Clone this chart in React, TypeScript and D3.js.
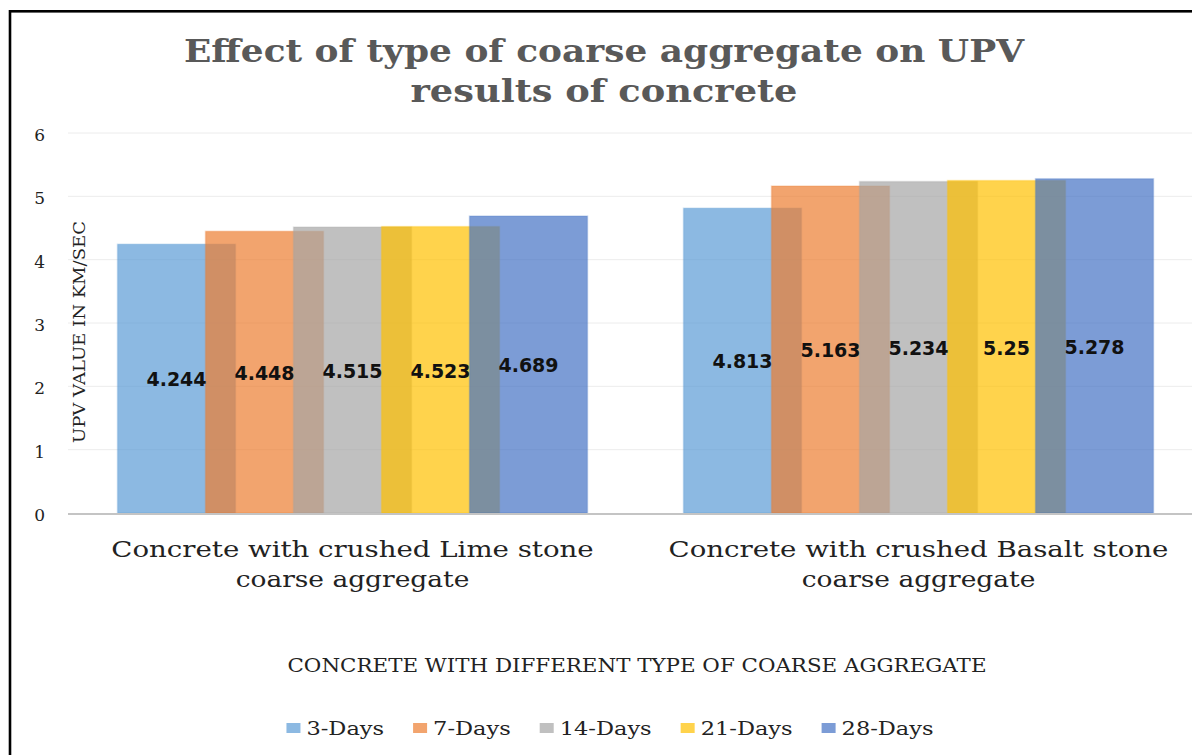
import React from "react";
import * as d3 from "d3";

// ---------- data ----------
const CATEGORIES = [
  "Concrete with crushed Lime stone coarse aggregate",
  "Concrete with crushed Basalt stone coarse aggregate",
];
const CATEGORY_LINES = [
  ["Concrete with crushed Lime stone", "coarse aggregate"],
  ["Concrete with crushed Basalt stone", "coarse aggregate"],
];
const SERIES = ["3-Days", "7-Days", "14-Days", "21-Days", "28-Days"];
const COLORS = ["#5B9BD5", "#ED7D31", "#A5A5A5", "#FFC000", "#4472C4"];
const DAYS_3 = [4.244, 4.813];
const DAYS_7 = [4.448, 5.163];
const DAYS_14 = [4.515, 5.234];
const DAYS_21 = [4.523, 5.25];
const DAYS_28 = [4.689, 5.278];
const VALUES = [DAYS_3, DAYS_7, DAYS_14, DAYS_21, DAYS_28];
const LABELS = [
  ["4.244", "4.813"],
  ["4.448", "5.163"],
  ["4.515", "5.234"],
  ["4.523", "5.25"],
  ["4.689", "5.278"],
];
const Y_TICKS = [0, 1, 2, 3, 4, 5, 6];
const TITLE_LINES = ["Effect of type of coarse aggregate on UPV", "results of concrete"];
const Y_TITLE = "UPV VALUE IN KM/SEC";
const X_TITLE = "CONCRETE WITH DIFFERENT TYPE OF COARSE AGGREGATE";

// ---------- layout ----------
const W = 1192;
const H = 755;
const PLOT_LEFT = 69.5;
const PLOT_RIGHT = 1201.5;
const Y_BOTTOM = 513;
const Y_TOP = 133;
const BAR_W = 118;
const BAR_STEP = 88;
const SERIF = "'DejaVu Serif', 'Liberation Serif', serif";
const SANS = "'DejaVu Sans', Verdana, sans-serif";
const SX_CAT = 1.2;
const SX_CAT2 = 1.15;
const SX_LEG = 1.25;

let _ctx: CanvasRenderingContext2D | null = null;
function measure(text: string, font: string): number {
  if (!_ctx) {
    const c = document.createElement("canvas");
    _ctx = c.getContext("2d");
  }
  if (!_ctx) return text.length * 10;
  _ctx.font = font;
  return _ctx.measureText(text).width;
}

export default function App() {
  const x = d3.scaleBand<string>().domain(CATEGORIES).range([PLOT_LEFT, PLOT_RIGHT]).paddingInner(0).paddingOuter(0);
  const y = d3.scaleLinear().domain([0, 6]).range([Y_BOTTOM, Y_TOP]);
  const groupW = BAR_STEP * (SERIES.length - 1) + BAR_W;
  const off = (x.bandwidth() - groupW) / 2;
  const sx = d3.scaleLinear().domain([0, SERIES.length - 1]).range([off, off + BAR_STEP * (SERIES.length - 1)]);

  const catFontSize = 23;
  const catFont = `${catFontSize}px ${SERIF}`;
  const legFontSize = 18;
  const legFont = `${legFontSize}px ${SERIF}`;
  const xtFontSize = 19;

  // legend layout
  const legendItems = SERIES.map((s) => ({ s, tw: measure(s, legFont) * SX_LEG }));
  const SQ_W = 14;
  const SQ_GAP = 6;
  const ITEM_GAP = 29;
  const totalLeg = legendItems.reduce((a, it) => a + SQ_W + SQ_GAP + it.tw, 0) + ITEM_GAP * (legendItems.length - 1);
  let cursor = 610 - totalLeg / 2;
  const legendPos = legendItems.map((it) => {
    const p = { ...it, x: cursor };
    cursor += SQ_W + SQ_GAP + it.tw + ITEM_GAP;
    return p;
  });

  return (
    <svg width={W} height={H} style={{ position: "absolute", left: 0, top: 0, display: "block", background: "#fff" }}>
      <rect x={0} y={0} width={W} height={H} fill="#fff" />
      <rect x={10} y={11.3} width={W + 200} height={H + 200} fill="none" stroke="#000" strokeWidth={2.6} />

      {/* title */}
      {TITLE_LINES.map((t, i) => (
        <text
          key={t}
          x={604}
          y={62 + i * 40}
          textAnchor="middle"
          fontFamily={SERIF}
          fontWeight="bold"
          fontSize={31}
          fill="#595959"
          textLength={i === 0 ? 840 : 387}
          lengthAdjust="spacingAndGlyphs"
        >
          {t}
        </text>
      ))}

      {/* gridlines */}
      {Y_TICKS.filter((t) => t > 0).map((t) => (
        <line key={t} x1={68} x2={W} y1={y(t)} y2={y(t)} stroke="#ECECEC" strokeWidth={1} />
      ))}

      {/* y tick labels */}
      {Y_TICKS.map((t) => (
        <text key={t} x={45} y={y(t) + 2} dy="0.35em" textAnchor="end" fontFamily={SERIF} fontSize={17} fill="#222">
          {t}
        </text>
      ))}

      {/* y title */}
      <text
        transform={`translate(79,332) rotate(-90)`}
        textAnchor="middle"
        dy="0.35em"
        fontFamily={SERIF}
        fontSize={17}
        fill="#222"
        textLength={222}
        lengthAdjust="spacingAndGlyphs"
      >
        {Y_TITLE}
      </text>

      {/* bars */}
      {SERIES.map((s, si) => (
        <g key={s}>
          {CATEGORIES.map((c, ci) => {
            const v = VALUES[si][ci];
            const bx = (x(c) as number) + sx(si);
            return (
              <rect
                key={c}
                x={bx}
                y={y(v)}
                width={BAR_W}
                height={y(0) - y(v)}
                fill={COLORS[si]}
                fillOpacity={0.7}
                stroke={COLORS[si]}
                strokeOpacity={0.25}
                strokeWidth={1.5}
              />
            );
          })}
        </g>
      ))}

      {/* baseline */}
      <line x1={68} x2={W} y1={y(0) + 1} y2={y(0) + 1} stroke="#C4C4C4" strokeWidth={2} />

      {/* value labels */}
      {SERIES.map((s, si) =>
        CATEGORIES.map((c, ci) => {
          const v = VALUES[si][ci];
          const cx = (x(c) as number) + sx(si) + BAR_W / 2;
          const cy = (y(v) + y(0)) / 2 + 1;
          return (
            <text
              key={s + c}
              x={cx}
              y={cy}
              dy="0.36em"
              textAnchor="middle"
              fontFamily={SANS}
              fontWeight="bold"
              fontSize={19}
              fill="#111"
            >
              {LABELS[si][ci]}
            </text>
          );
        })
      )}

      {/* category labels */}
      {CATEGORIES.map((c, ci) => (
        <g key={c}>
          {CATEGORY_LINES[ci].map((ln, li) => (
            <text
              key={ln}
              x={(x(c) as number) + x.bandwidth() / 2}
              y={557 + li * 30}
              textAnchor="middle"
              fontFamily={SERIF}
              fontSize={catFontSize}
              fill="#222"
              textLength={measure(ln, catFont) * (li === 0 ? SX_CAT : SX_CAT2)}
              lengthAdjust="spacingAndGlyphs"
            >
              {ln}
            </text>
          ))}
        </g>
      ))}

      {/* x title */}
      <text
        x={637}
        y={672}
        textAnchor="middle"
        fontFamily={SERIF}
        fontSize={xtFontSize}
        fill="#222"
        textLength={699}
        lengthAdjust="spacingAndGlyphs"
      >
        {X_TITLE}
      </text>

      {/* legend */}
      {legendPos.map((it, i) => (
        <g key={it.s}>
          <rect x={it.x} y={723} width={SQ_W} height={10} fill={COLORS[i]} fillOpacity={0.7} />
          <text
            x={it.x + SQ_W + SQ_GAP}
            y={735}
            fontFamily={SERIF}
            fontSize={legFontSize}
            fill="#222"
            textLength={it.tw}
            lengthAdjust="spacingAndGlyphs"
          >
            {it.s}
          </text>
        </g>
      ))}
    </svg>
  );
}
